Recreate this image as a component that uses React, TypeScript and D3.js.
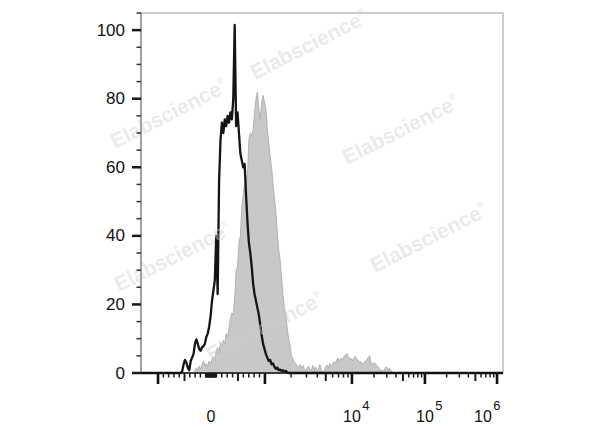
import React, { useEffect } from "react";
import * as d3 from "d3";

const WIDTH = 600;
const HEIGHT = 427;
const CHANNELS = 256;

// Open (black) histogram: counts per channel, starting at channel openStart
const openStart = 29;
const openCounts = [
  0.5, 2.5, 3.8, 3.0, 1.5, 0.8, 3.5, 4.5, 5.5, 8.5,
  9.8, 8.5, 7.0, 6.5, 7.5, 7.8, 8.5, 10.5, 11.5, 13.5,
  16.5, 21, 24, 27, 40, 23, 56, 68, 73, 70,
  74, 72, 75, 73, 76, 74, 80, 101.5, 72, 76,
  70, 64, 62, 60, 61, 52, 44, 38, 35, 31,
  26, 23, 21, 19, 17, 14, 11, 8.5, 7, 5.5,
  4.5, 3.5, 3.8, 2.5, 2.8, 1.8, 1.2, 1.6, 0.8, 1.0,
  0.6, 0.8, 0.4, 0.6, 0.2, 0,
];

// Filled (gray) histogram: counts per channel, starting at channel filledStart
const filledStart = 38;
const filledCounts = [
  0.8, 1.5, 0.8, 2.0, 1.2, 2.5, 3.5, 2.0, 2.8, 1.8,
  3.5, 2.5, 4.0, 4.8, 3.8, 6.5, 7.5, 6.0, 9.0, 7.5,
  9.5, 8.5, 11.5, 10.5, 13, 16, 17.5, 17, 22, 30,
  31, 38, 40, 48, 52, 55, 56, 58, 68, 70,
  69, 71, 76, 80, 82, 77, 74, 79, 81, 79,
  77, 71, 67, 63, 60, 55, 51, 47, 41, 36,
  33, 28, 23, 19, 17, 13, 10, 8, 5, 4,
  3, 2.8, 2.0, 1.8, 2.5, 1.5, 2.2, 1.2, 0.8, 1.5,
  2.0, 1.0, 0.8, 2.2, 1.0, 1.8, 0.6, 1.0, 2.5, 1.0,
  0.3, 0.5, 1.8, 2.3, 1.5, 2.8, 2.0, 2.5, 3.3, 2.8,
  4.0, 4.3, 3.5, 4.3, 3.8, 4.8, 5.2, 5.7, 4.8, 4.0,
  4.3, 3.5, 4.5, 4.8, 4.0, 3.8, 3.0, 3.3, 2.5, 3.0,
  3.5, 3.8, 4.5, 5.0, 3.3, 2.5, 3.0, 2.8, 2.0, 1.8,
  1.0, 0.8, 0.9, 0.5, 1.5, 1.8, 0.8, 1.5, 0.8, 0,
];

// Y axis
const yMajorTicks = [0, 20, 40, 60, 80, 100];
const yMinorTicks = [5, 10, 15, 25, 30, 35, 45, 50, 55, 65, 70, 75, 85, 90, 95, 105];
const yMax = 105;

// X axis: biexponential display. Anchors (in "u" = signed decade units) -> channel
const biexU = [-3, 0, 3, 4, 5, 6];
const biexChannel = [12, 49.3, 87.3, 148.6, 200, 250.8];
const xMajorValues = [-1000, 1000, 10000, 100000, 1000000];
const xLabelValues = [0, 10000, 100000, 1000000];
const xLabelExponents = [null, 4, 5, 6];

const watermarkCenters: [number, number][] = [
  [312, 51],
  [172, 120],
  [404, 136],
  [176, 263],
  [432, 244],
  [268, 333],
];

const FONT = "'Liberation Sans', Arial, Helvetica, sans-serif";

function toU(v: number): number {
  if (Math.abs(v) <= 1000) return (3 * v) / 1000;
  return Math.sign(v) * Math.log10(Math.abs(v));
}

function buildMinorTicks() {
  const ticks: { v: number; kind: "minor" | "medium" }[] = [];
  for (let k = 1; k <= 9; k++) {
    for (const s of [-1, 1]) {
      ticks.push({ v: s * k * 10, kind: "minor" });
      ticks.push({ v: s * k * 100, kind: k === 5 ? "medium" : "minor" });
    }
  }
  ticks.push({ v: 0, kind: "minor" });
  for (const d of [3, 4, 5]) {
    for (let k = 2; k <= 9; k++) {
      ticks.push({ v: k * Math.pow(10, d), kind: k === 5 ? "medium" : "minor" });
    }
  }
  return ticks;
}

export default function App() {
  useEffect(() => {
    document.body.style.margin = "0";
  }, []);

  const left = 141, right = 503, top = 13, bottom = 373;

  const xCh = d3.scaleLinear().domain([0, CHANNELS - 1]).range([left, right]);
  const uToCh = d3.scaleLinear().domain(biexU).range(biexChannel);
  const xVal = (v: number) => xCh(uToCh(toU(v)));
  const y = d3.scaleLinear().domain([0, yMax]).range([bottom, top]);

  const openFull: [number, number][] = d3.range(CHANNELS).map((c) => {
    const i = c - openStart;
    const v = i >= 0 && i < openCounts.length ? openCounts[i] : 0;
    return [c, v];
  });
  const filledPts: [number, number][] = filledCounts.map((v, i) => [filledStart + i, v]);

  const line = d3
    .line<[number, number]>()
    .x((d) => xCh(d[0]))
    .y((d) => y(d[1]));
  const area = d3
    .area<[number, number]>()
    .x((d) => xCh(d[0]))
    .y0(y(0))
    .y1((d) => y(d[1]));

  const minorTicks = buildMinorTicks();

  return (
    <svg
      width={WIDTH}
      height={HEIGHT}
      style={{ position: "fixed", left: 0, top: 0, background: "#fff" }}
      fontFamily={FONT}
    >
      <rect x={0} y={0} width={WIDTH} height={HEIGHT} fill="#fff" />
      {/* frame */}
      <rect x={left} y={top} width={right - left} height={bottom - top} fill="none" stroke="#9a9a9a" strokeWidth={1} />

      {/* filled histogram */}
      <path d={area(filledPts) || ""} fill="#c8c8c8" stroke="#acacac" strokeWidth={0.9} />
      {/* open histogram */}
      <path d={line(openFull) || ""} fill="none" stroke="#141414" strokeWidth={2.3} strokeLinejoin="round" />

      {/* watermarks */}
      {watermarkCenters.map(([cx, cy], i) => (
        <text
          key={"wm" + i}
          x={cx}
          y={cy}
          textAnchor="middle"
          fontSize={21}
          fontWeight="bold"
          fill="#cfcfcf"
          fillOpacity={0.45}
          transform={`rotate(-27 ${cx} ${cy})`}
        >
          Elabscience
          <tspan fontSize={9} dy={-10}>®</tspan>
        </text>
      ))}

      {/* y axis */}
      <line x1={left} x2={left} y1={top} y2={bottom} stroke="#777" strokeWidth={1} />
      {yMinorTicks.map((t) => (
        <line key={"ym" + t} x1={left - 4.5} x2={left} y1={y(t)} y2={y(t)} stroke="#333" strokeWidth={1.5} />
      ))}
      {yMajorTicks.map((t) => (
        <g key={"yM" + t}>
          <line x1={left - 9} x2={left} y1={y(t)} y2={y(t)} stroke="#1a1a1a" strokeWidth={2.5} />
          <text x={125} y={y(t)} textAnchor="end" dominantBaseline="central" fontSize={17} fill="#111">
            {t}
          </text>
        </g>
      ))}

      {/* x axis */}
      <line x1={left} x2={right} y1={bottom} y2={bottom} stroke="#111" strokeWidth={1.6} />
      {minorTicks.map((t, i) => (
        <line
          key={"xm" + i}
          x1={xVal(t.v)}
          x2={xVal(t.v)}
          y1={bottom}
          y2={bottom + (t.kind === "medium" ? 8 : 4.5)}
          stroke="#1a1a1a"
          strokeWidth={t.kind === "medium" ? 2 : 1.5}
        />
      ))}
      {xMajorValues.map((v) => (
        <line key={"xM" + v} x1={xVal(v)} x2={xVal(v)} y1={bottom} y2={bottom + 11} stroke="#111" strokeWidth={2.6} />
      ))}
      {xLabelValues.map((v, i) => {
        const e = xLabelExponents[i];
        const px = xVal(v);
        if (e === null) {
          return (
            <text key={"xl" + v} x={px} y={421.5} textAnchor="middle" fontSize={16} fill="#111">
              0
            </text>
          );
        }
        const isLast = i === xLabelValues.length - 1;
        const startX = isLast ? 501 - 27 : px - 8.9;
        return (
          <text key={"xl" + v} x={startX} y={421.5} fontSize={16} fill="#111">
            10
            <tspan fontSize={13} dy={-12} dx={1.5}>{e}</tspan>
          </text>
        );
      })}
    </svg>
  );
}
